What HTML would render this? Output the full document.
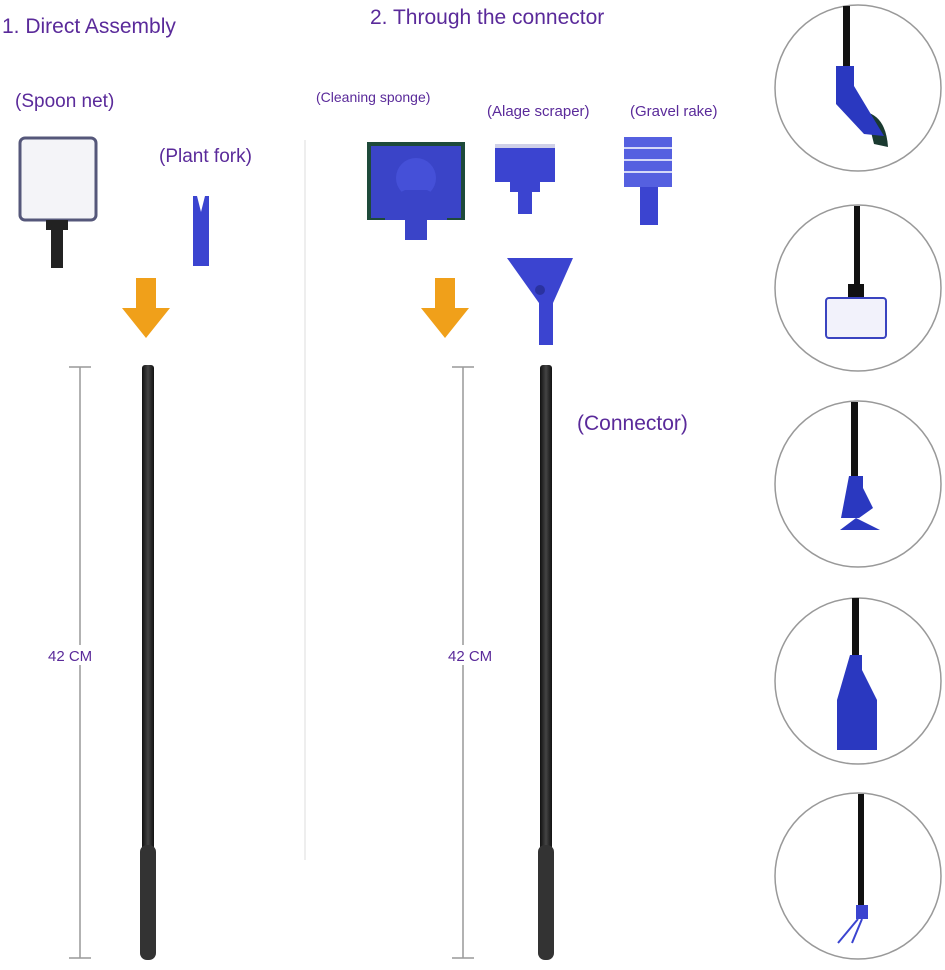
<!DOCTYPE html>
<html><head><meta charset="utf-8"><style>
html,body{margin:0;padding:0;background:#fff;}
svg{display:block}
text{font-family:"Liberation Sans",sans-serif;fill:#5a2a9a}
</style></head><body>
<svg width="945" height="970" viewBox="0 0 945 970" xmlns="http://www.w3.org/2000/svg">
<defs>
<linearGradient id="pole" x1="0" x2="1"><stop offset="0" stop-color="#111"/><stop offset=".5" stop-color="#444"/><stop offset="1" stop-color="#111"/></linearGradient>
</defs>
<rect width="945" height="970" fill="#fff"/>
<line x1="305" y1="140" x2="305" y2="860" stroke="#eee" stroke-width="2"/>
<text x="2" y="33" font-size="21">1. Direct  Assembly</text>
<text x="370" y="24" font-size="21">2. Through the connector</text>
<text x="15" y="107" font-size="19">(Spoon net)</text>
<text x="159" y="162" font-size="19">(Plant fork)</text>
<text x="316" y="102" font-size="14">(Cleaning sponge)</text>
<text x="487" y="116" font-size="15">(Alage scraper)</text>
<text x="630" y="116" font-size="15">(Gravel rake)</text>
<text x="577" y="430" font-size="21">(Connector)</text>

<!-- spoon net -->
<rect x="20" y="138" width="76" height="82" rx="5" fill="#f4f4f8" stroke="#55577a" stroke-width="3"/>
<path d="M46 220 h22 v10 h-5 v38 h-12 v-38 h-5z" fill="#222"/>
<!-- plant fork -->
<path d="M193 196 h4 l4 16 l4 -16 h4 v70 h-16z" fill="#3b44d0"/>
<!-- arrows -->
<path d="M136 278 h20 v30 h14 l-24 30 l-24 -30 h14z" fill="#f0a01a"/>
<path d="M435 278 h20 v30 h14 l-24 30 l-24 -30 h14z" fill="#f0a01a"/>
<!-- sponge -->
<rect x="367" y="142" width="98" height="78" fill="#1e4a3a"/>
<rect x="371" y="146" width="90" height="72" fill="#3a44c8"/>
<circle cx="416" cy="178" r="20" fill="#4550d8"/>
<path d="M385 200 l20 -10 h22 l20 10 v20 h-20 v20 h-22 v-20 h-20z" fill="#3a44c8"/>
<!-- scraper -->
<rect x="495" y="146" width="60" height="36" fill="#3b44d0"/>
<rect x="495" y="144" width="60" height="4" fill="#cfd0e8"/>
<path d="M510 182 h30 v10 h-8 v22 h-14 v-22 h-8z" fill="#3b44d0"/>
<!-- rake -->
<rect x="624" y="137" width="48" height="50" fill="#5560e0"/>
<g stroke="#fff" stroke-width="1.5">
<line x1="624" y1="148" x2="672" y2="148"/><line x1="624" y1="160" x2="672" y2="160"/><line x1="624" y1="172" x2="672" y2="172"/>
</g>
<path d="M640 187 h18 v38 h-18z" fill="#3b44d0"/>
<!-- connector -->
<path d="M507 258 h66 l-20 45 v42 h-14 v-42z" fill="#3b44d0"/>
<circle cx="540" cy="290" r="5" fill="#2a32a0"/>

<!-- dimension lines -->
<g stroke="#999" stroke-width="1.5">
<line x1="80" y1="367" x2="80" y2="958"/><line x1="69" y1="367" x2="91" y2="367"/><line x1="69" y1="958" x2="91" y2="958"/>
<line x1="463" y1="367" x2="463" y2="958"/><line x1="452" y1="367" x2="474" y2="367"/><line x1="452" y1="958" x2="474" y2="958"/>
</g>
<rect x="45" y="645" width="70" height="20" fill="#fff"/>
<text x="48" y="661" font-size="15">42  CM</text>
<rect x="445" y="645" width="60" height="20" fill="#fff"/>
<text x="448" y="661" font-size="15">42 CM</text>

<!-- poles -->
<rect x="142" y="365" width="12" height="490" rx="3" fill="url(#pole)"/>
<rect x="140" y="845" width="16" height="115" rx="7" fill="#333"/>
<rect x="540" y="365" width="12" height="490" rx="3" fill="url(#pole)"/>
<rect x="538" y="845" width="16" height="115" rx="7" fill="#333"/>

<!-- circles -->
<g fill="#fff" stroke="#999" stroke-width="1.5">
<ellipse cx="858" cy="88" rx="83" ry="83"/>
<ellipse cx="858" cy="288" rx="83" ry="83"/>
<ellipse cx="858" cy="484" rx="83" ry="83"/>
<ellipse cx="858" cy="681" rx="83" ry="83"/>
<ellipse cx="858" cy="876" rx="83" ry="83"/>
</g>
<g fill="#111">
<rect x="843" y="6" width="7" height="60"/>
<rect x="854" y="206" width="6" height="80"/>
<rect x="851" y="402" width="7" height="80"/>
<rect x="852" y="598" width="7" height="60"/>
<rect x="858" y="794" width="6" height="120"/>
</g>
<path d="M866 112 q20 5 22 35 l-14 -3z" fill="#1a3a30"/>
<path d="M836 66 h18 v20 l30 50 l-20 -2 l-28 -30z" fill="#2a38c0"/>
<path d="M848 284 h16 v15 h-16z" fill="#111"/>
<rect x="826" y="298" width="60" height="40" rx="3" fill="#f2f2fb" stroke="#3a44c0" stroke-width="2"/>
<path d="M849 476 h14 v12 l10 20 l-14 10 h-18 z" fill="#2a38c0"/>
<path d="M840 530 h40 l-24 -12z" fill="#2a38c0"/>
<path d="M850 655 h12 v15 l15 30 v50 h-40 v-50z" fill="#2a38c0"/>
<rect x="856" y="905" width="12" height="14" fill="#3b44d0"/>
<path d="M858 919 l-20 24 M862 919 l-10 24" stroke="#3b44d0" stroke-width="2"/>
</svg>
</body></html>
